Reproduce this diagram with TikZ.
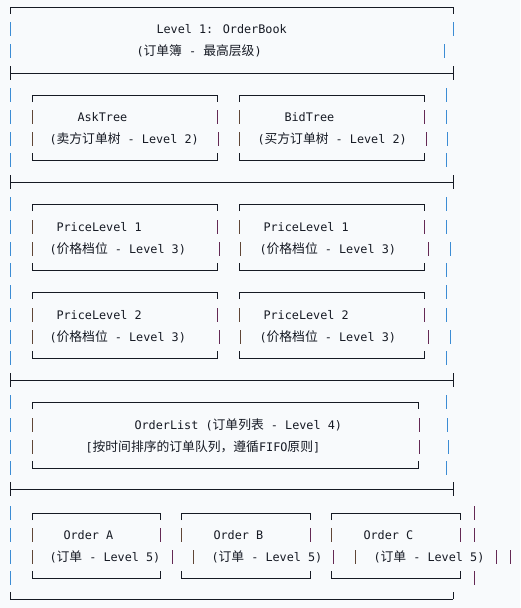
\documentclass[tikz,border=0pt]{standalone}
\usepackage{fontspec}
\newfontfamily\mono{DejaVu Sans Mono}
\newfontfamily\cjkfont[Scale=1.085]{Noto Sans CJK SC}
\newcommand{\zh}[1]{{\cjkfont #1}}
\definecolor{paper}{RGB}{248,250,252}
\definecolor{ink}{RGB}{22,26,36}
\definecolor{edgeblue}{RGB}{60,140,212}
\definecolor{edgebrown}{RGB}{96,70,54}
\definecolor{edgeplum}{RGB}{100,40,84}

\begin{document}
\begin{tikzpicture}[x=1pt, y=-1pt, line width=1pt,
  lbl/.style={anchor=base west, inner sep=0pt, text=ink, font=\mono\fontsize{11.8}{14}\selectfont},
  rule/.style={draw=ink},
  oside/.style={draw=edgeblue},
  lside/.style={draw=edgebrown},
  rside/.style={draw=edgeplum}]
\fill[paper] (0,0) rectangle (520,608);
\useasboundingbox (0,0) rectangle (520,608);

\foreach \y/\u/\d in {7/0/7, 73/7/7, 182/7/7, 380/7/7, 489/7/7, 599/7/0}
  \draw[rule] (10,\y-\u) -- (10,\y+\d) (10,\y) -- (453,\y) (453,\y-\u) -- (453,\y+\d);
\foreach \y/\r in {29/453, 51/444, 95/446, 117/446, 139/447, 160/446,
                   204/446, 227/446, 249/450, 270/446, 292/446, 315/446, 337/450, 358/446,
                   402/446, 425/447, 447/448, 468/446}
  {\draw[oside] (10,\y-7) -- (10,\y+7); \draw[oside] (\r,\y-7) -- (\r,\y+7);}
\foreach \y/\r in {513/474, 535/474, 557/510, 578/474}
  {\draw[oside] (10,\y-7) -- (10,\y+7); \draw[rside] (\r,\y-7) -- (\r,\y+7);}

\foreach \l/\r/\t/\b in {32/217/95/160, 239/424/95/160, 32/217/204/270, 239/424/204/270,
                         32/217/292/358, 239/424/292/358, 32/418/402/468,
                         32/160/513/578, 181/310/513/578, 331/460/513/578}
  \draw[rule] (\l,\t+7) -- (\l,\t) -- (\r,\t) -- (\r,\t+7) (\l,\b-7) -- (\l,\b) -- (\r,\b) -- (\r,\b-7);
\foreach \y/\l/\r in {117/32/217, 139/32/218, 117/239/424, 139/239/426,
                      227/32/217, 249/32/219, 227/239/424, 249/240/428,
                      315/32/217, 337/32/219, 315/239/424, 337/240/428,
                      425/32/419, 447/32/419,
                      535/32/160, 557/32/172, 535/181/310, 557/193/333, 535/331/460, 557/355/496}
  {\draw[lside] (\l,\y-7) -- (\l,\y+7); \draw[rside] (\r,\y-7) -- (\r,\y+7);}

\node[lbl] (book) at (156,33.5) {Level 1: OrderBook};
\node[lbl] (bookzh) at (136,55.5) {(\zh{订单簿} - \zh{最高层级})};
\node[lbl] (ask) at (77,121.5) {AskTree};
\node[lbl] (askzh) at (49,143.5) {(\zh{卖方订单树} - Level 2)};
\node[lbl] (bid) at (284,121.5) {BidTree};
\node[lbl] (bidzh) at (257,143.5) {(\zh{买方订单树} - Level 2)};
\node[lbl] (pricea) at (56,231.5) {PriceLevel 1};
\node[lbl] (priceazh) at (49,253.5) {(\zh{价格档位} - Level 3)};
\node[lbl] (priceb) at (263,231.5) {PriceLevel 1};
\node[lbl] (pricebzh) at (259,253.5) {(\zh{价格档位} - Level 3)};
\node[lbl] (pricec) at (56,319.5) {PriceLevel 2};
\node[lbl] (pricezh) at (49,341.5) {(\zh{价格档位} - Level 3)};
\node[lbl] (priced) at (263,319.5) {PriceLevel 2};
\node[lbl] (pricedzh) at (259,341.5) {(\zh{价格档位} - Level 3)};
\node[lbl] (olist) at (134,429.5) {OrderList (\zh{订单列表} - Level 4)};
\node[lbl] (olistzh) at (85,451.5) {[\zh{按时间排序的订单队列，遵循}FIFO\zh{原则}]};
\node[lbl] (orda) at (63,539.5) {Order A};
\node[lbl] (ordazh) at (49,561.5) {(\zh{订单} - Level 5)};
\node[lbl] (ordb) at (213,539.5) {Order B};
\node[lbl] (ordbzh) at (211,561.5) {(\zh{订单} - Level 5)};
\node[lbl] (ordc) at (363,539.5) {Order C};
\node[lbl] (ordczh) at (373,561.5) {(\zh{订单} - Level 5)};
\end{tikzpicture}
\end{document}
